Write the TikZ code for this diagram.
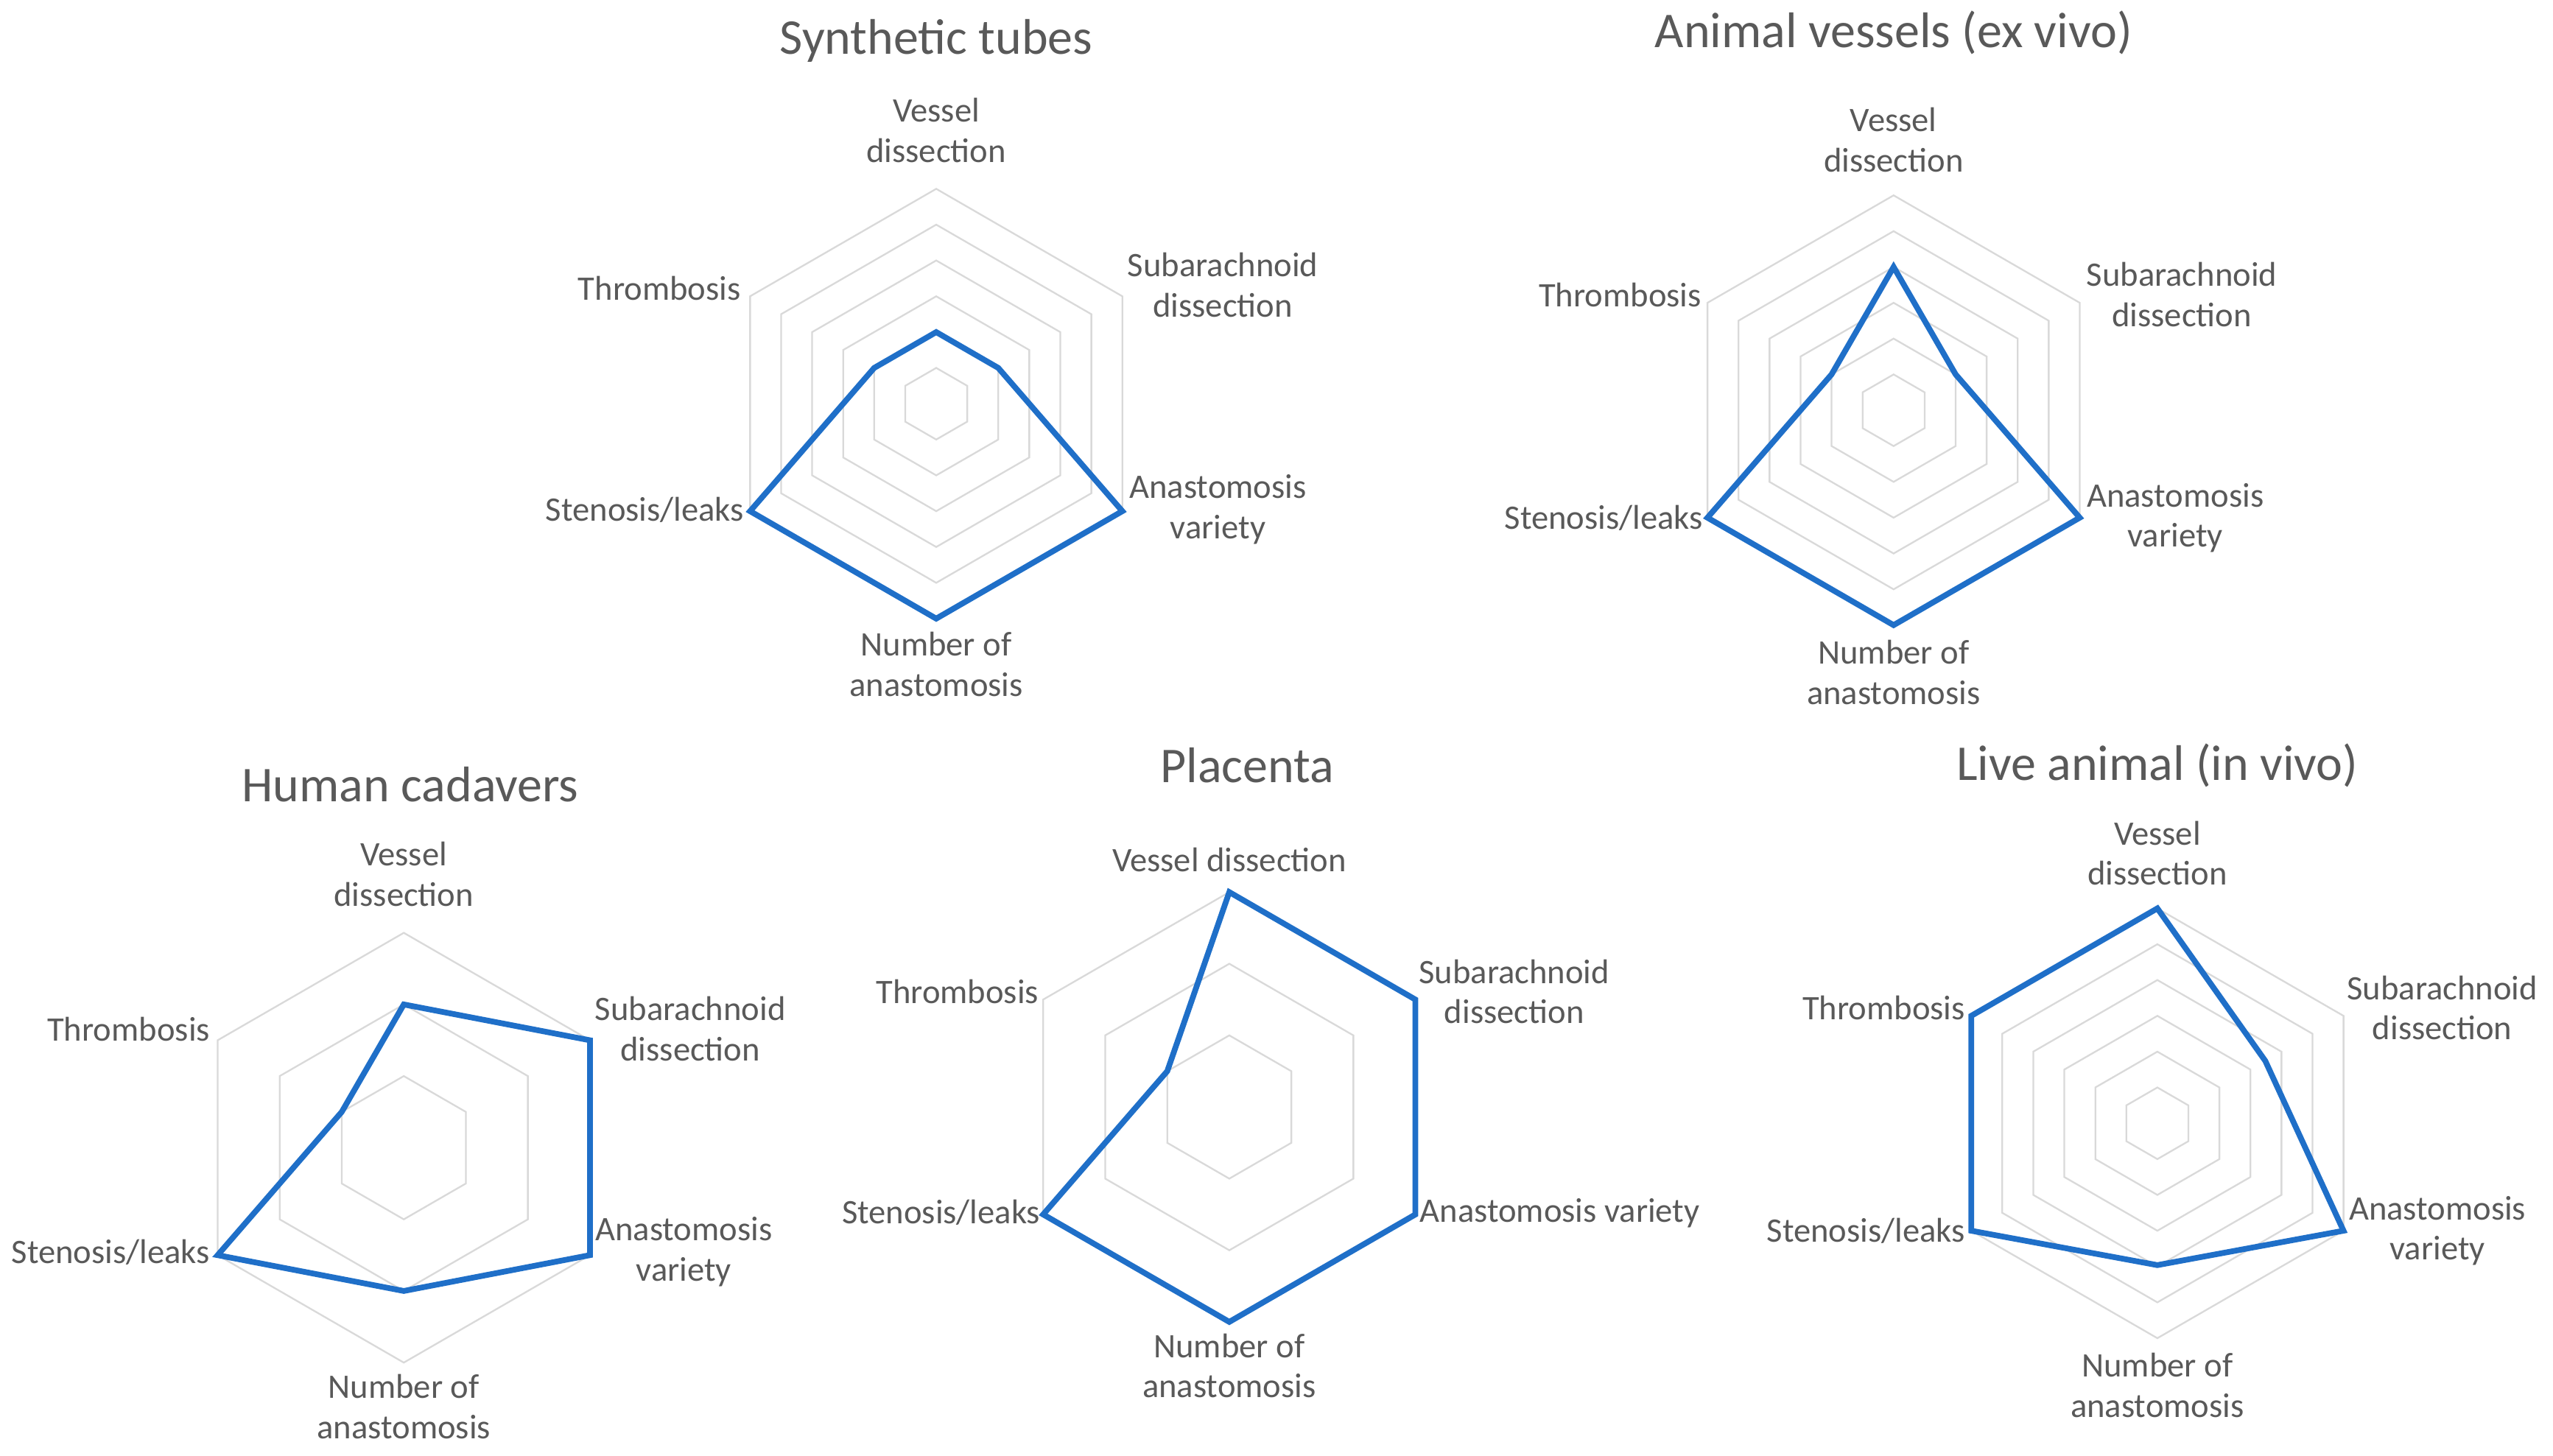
\documentclass[tikz,border=0pt]{standalone}
\usepackage{fontspec}
\setmainfont{Carlito}
\usepackage{tikz}
\definecolor{txtgray}{HTML}{595959}
\definecolor{gridgray}{HTML}{D9D9D9}
\definecolor{lineblue}{HTML}{1F6FC8}
\tikzset{
  lbl/.style={text=txtgray, font=\fontsize{12}{14}\selectfont, align=center},
  ttl/.style={text=txtgray, font=\fontsize{17.5}{20}\selectfont},
  ring/.style={draw=gridgray, line width=0.6pt},
  series/.style={draw=lineblue, line width=2pt, line join=miter}
}
% #1 centre, #2 rings, #3..#8 values (fraction of full radius)
\newcommand{\spiderweb}[8]{%
  \foreach \k in {1,...,#2}
    \draw[ring] ($(#1)+(90:132*\k/#2)$) \foreach \a in {30,-30,-90,-150,150} {-- ($(#1)+(\a:132*\k/#2)$)} -- cycle;
  \draw[series] ($(#1)+(90:132*#3)$) -- ($(#1)+(30:132*#4)$) -- ($(#1)+(-30:132*#5)$)
    -- ($(#1)+(-90:132*#6)$) -- ($(#1)+(-150:132*#7)$) -- ($(#1)+(150:132*#8)$) -- cycle;
}
\usetikzlibrary{calc}
\begin{document}
\begin{tikzpicture}[x=0.02cm,y=0.02cm]
\useasboundingbox (0,0) rectangle (1568,894);

% Synthetic tubes
\coordinate (st) at (575,646);
\spiderweb{st}{6}{1/3}{1/3}{1}{1}{1}{1/3}
\node[ttl] (st-t) at (575,869) {Synthetic tubes};
\node[lbl] (st-v) at (575,814) {Vessel\\dissection};
\node[lbl] (st-s) at (751,719) {Subarachnoid\\dissection};
\node[lbl] (st-a) at (748,581) {Anastomosis\\variety};
\node[lbl] (st-n) at (575,486) {Number of\\anastomosis};
\node[lbl] (st-l) at (396,581) {Stenosis/leaks};
\node[lbl] (st-h) at (405,717) {Thrombosis};

% Animal vessels
\coordinate (av) at (1163,642);
\spiderweb{av}{6}{2/3}{1/3}{1}{1}{1}{1/3}
\node[ttl] (av-t) at (1163,874) {Animal vessels (ex vivo)};
\node[lbl] (av-v) at (1163,808) {Vessel\\dissection};
\node[lbl] (av-s) at (1340,713) {Subarachnoid\\dissection};
\node[lbl] (av-a) at (1336,576) {Anastomosis\\variety};
\node[lbl] (av-n) at (1163,481) {Number of\\anastomosis};
\node[lbl] (av-l) at (985,576) {Stenosis/leaks};
\node[lbl] (av-h) at (995,713) {Thrombosis};

% Human cadavers
\coordinate (hc) at (248,189);
\spiderweb{hc}{3}{2/3}{1}{1}{2/3}{1}{1/3}
\node[ttl] (hc-t) at (252,412) {Human cadavers};
\node[lbl] (hc-v) at (248,357) {Vessel\\dissection};
\node[lbl] (hc-s) at (424,262) {Subarachnoid\\dissection};
\node[lbl] (hc-a) at (420,125) {Anastomosis\\variety};
\node[lbl] (hc-n) at (248,30) {Number of\\anastomosis};
\node[lbl] (hc-l) at (68,125) {Stenosis/leaks};
\node[lbl] (hc-h) at (79,262) {Thrombosis};

% Placenta
\coordinate (pl) at (755,214);
\spiderweb{pl}{3}{1}{1}{1}{1}{1}{1/3}
\node[ttl] (pl-t) at (766,424) {Placenta};
\node[lbl] (pl-v) at (755,366) {Vessel dissection};
\node[lbl] (pl-s) at (930,285) {Subarachnoid\\dissection};
\node[lbl] (pl-a) at (958,149) {Anastomosis variety};
\node[lbl] (pl-n) at (755,55) {Number of\\anastomosis};
\node[lbl] (pl-l) at (578,149) {Stenosis/leaks};
\node[lbl] (pl-h) at (588,285) {Thrombosis};

% Live animal
\coordinate (la) at (1325,204);
\spiderweb{la}{6}{1}{0.58}{1}{0.66}{1}{1}
\node[ttl] (la-t) at (1325,424) {Live animal (in vivo)};
\node[lbl] (la-v) at (1325,370) {Vessel\\dissection};
\node[lbl] (la-s) at (1500,275) {Subarachnoid\\dissection};
\node[lbl] (la-a) at (1497,138) {Anastomosis\\variety};
\node[lbl] (la-n) at (1325,43) {Number of\\anastomosis};
\node[lbl] (la-l) at (1146,138) {Stenosis/leaks};
\node[lbl] (la-h) at (1157,275) {Thrombosis};
\end{tikzpicture}
\end{document}
